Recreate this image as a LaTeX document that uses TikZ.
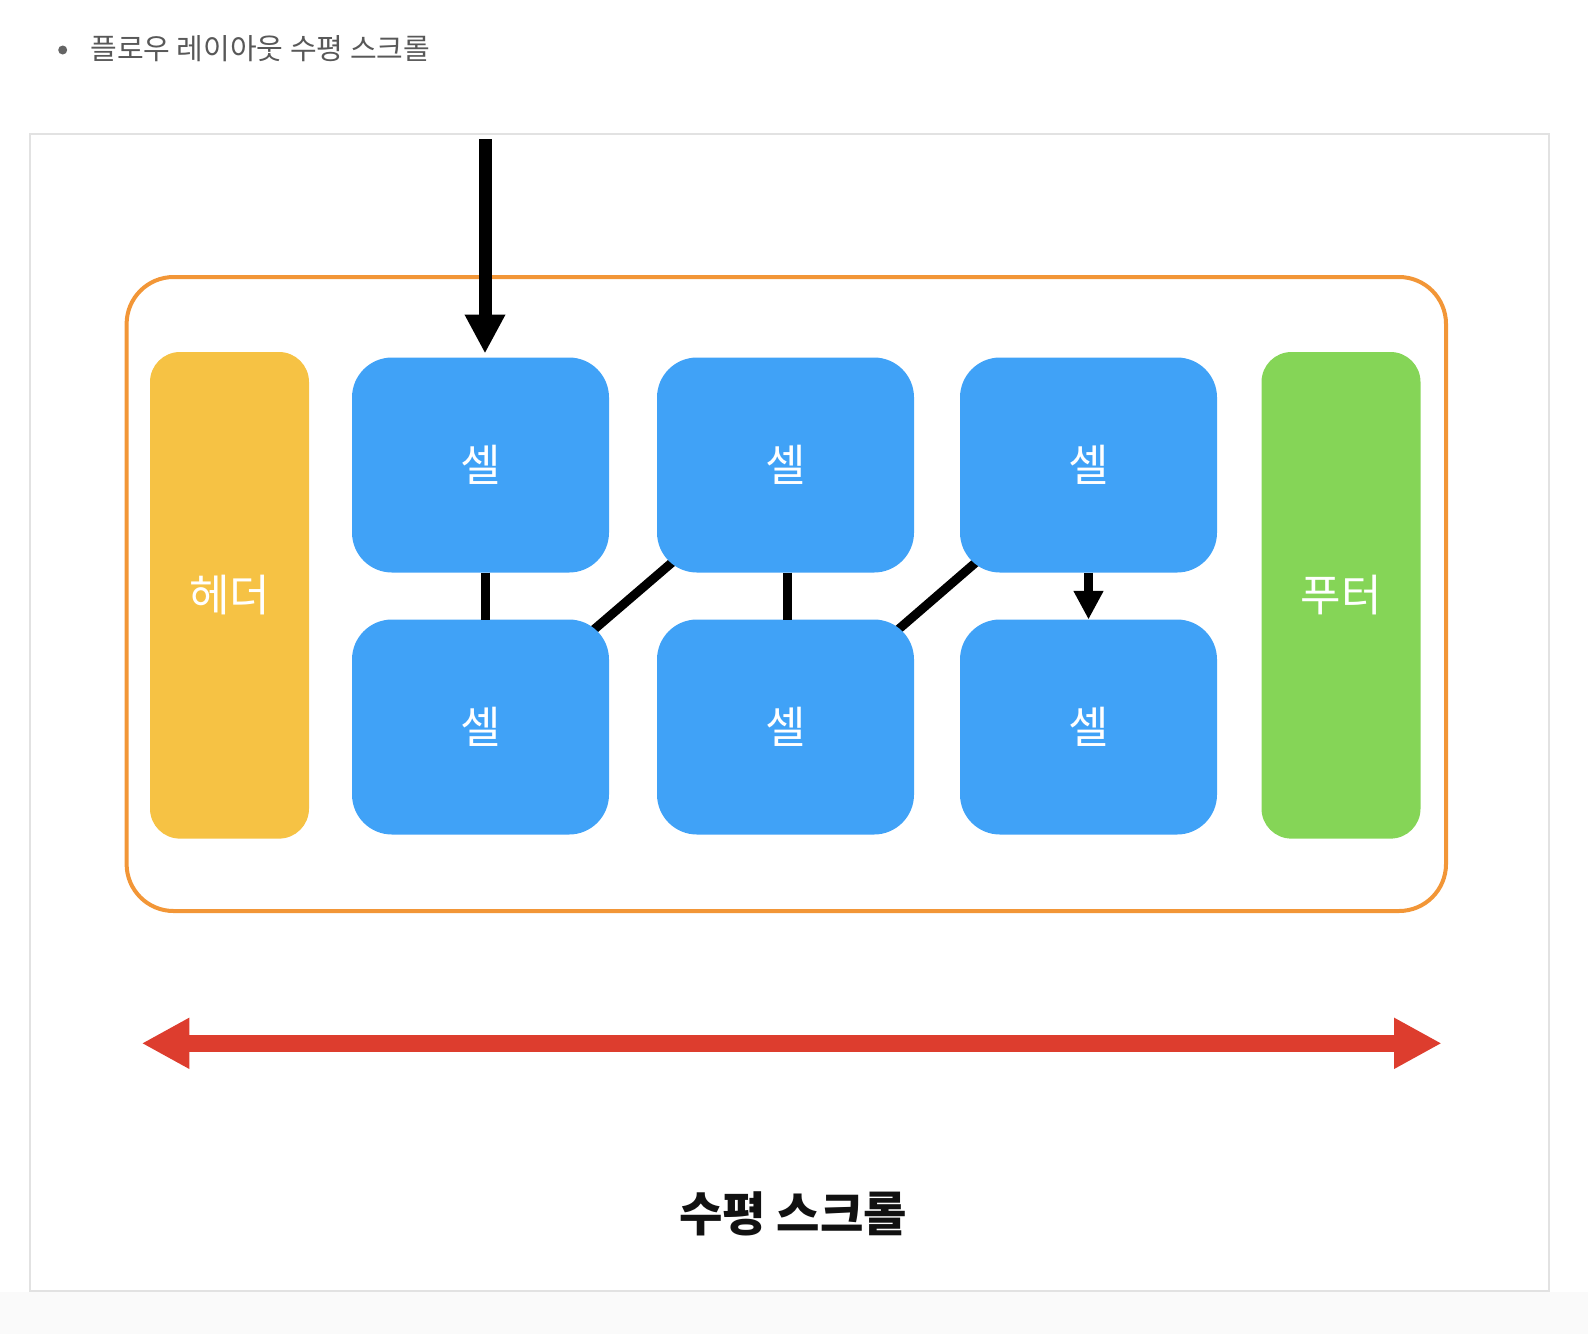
\documentclass[tikz,border=0pt]{standalone}
\usepackage{fontspec}
\newfontfamily\kr{Noto Sans CJK KR}
\usetikzlibrary{arrows.meta,backgrounds}
\definecolor{cellblue}{RGB}{64,162,247}
\definecolor{headeryellow}{RGB}{246,194,68}
\definecolor{footergreen}{RGB}{133,213,87}
\definecolor{orangeline}{RGB}{242,150,55}
\definecolor{scrollred}{RGB}{221,61,46}
\definecolor{framegray}{RGB}{226,226,226}
\definecolor{pagegray}{RGB}{250,250,250}
\definecolor{textgray}{RGB}{88,88,88}
\definecolor{bulletgray}{RGB}{100,100,100}
\definecolor{textblack}{RGB}{17,17,17}
\begin{document}
\begin{tikzpicture}[x=0.5pt,y=-0.5pt,
  cellbox/.style={fill=cellblue, rounded corners=20pt, minimum width=128.5pt,
    minimum height=107.5pt, inner sep=0pt, outer sep=0pt, text=white,
    font=\kr\fontsize{22}{26}\selectfont},
  sidebox/.style={rounded corners=15pt, minimum width=79.5pt,
    minimum height=243.3pt, inner sep=0pt, outer sep=0pt, text=white,
    font=\kr\fontsize{22}{26}\selectfont},
  link/.style={line width=4.5pt, draw=black},
  bigtip/.style={-{Triangle[length=19.5pt,width=19pt]}},
  smalltip/.style={-{Triangle[length=14.3pt,width=14pt]}},
  redtip/.style={{Triangle[length=23.8pt,width=23.8pt]}-{Triangle[length=23.8pt,width=23.8pt]}}
]
\useasboundingbox (0,0) rectangle (1588,1334);
\fill[pagegray] (0,1291.5) rectangle (1588,1334);
\draw[framegray, line width=1pt] (30.4,133.7) rectangle (1548.5,1290.7);
\draw[orangeline, line width=2pt, rounded corners=23.5pt] (126.6,277) rectangle (1446,911);

% title
\node[circle, fill=bulletgray, minimum size=4.5pt, inner sep=0pt] (bullet) at (62.7,50) {};
\node[anchor=west, inner sep=0pt, text=textgray, font=\kr\fontsize{14.5}{17}\selectfont] (title) at (90,48.3) {플로우 레이아웃 수평 스크롤};

% side boxes
\node[sidebox, fill=headeryellow] (header) at (229.5,595.3) {헤더};
\node[sidebox, fill=footergreen] (footer) at (1341,595.3) {푸터};

% cells
\node[cellbox] (t1) at (480.5,465) {셀};
\node[cellbox] (t2) at (785.5,465) {셀};
\node[cellbox] (t3) at (1088.5,465) {셀};
\node[cellbox] (b1) at (480.5,727) {셀};
\node[cellbox] (b2) at (785.5,727) {셀};
\node[cellbox] (b3) at (1088.5,727) {셀};

% connectors
\coordinate (start) at (485,139);
\draw[line width=6.5pt, bigtip, shorten >=2pt] (start) -- (start |- t1.north);
\draw[link] ([xshift=2.25pt]t1.south) -- ([xshift=2.25pt]b1.north);
\draw[link] ([xshift=1pt]t2.south) -- ([xshift=1pt]b2.north);
\draw[link, smalltip] (t3.south) -- (b3.north);
\begin{scope}[on background layer]
  \draw[link] (b1.center) -- (t2.center);
  \draw[link] (b2.center) -- (t3.center);
\end{scope}

% scroll arrow
\coordinate (left) at (141.7,1043.3);
\coordinate (right) at (1441.7,1043.3);
\draw[scrollred, line width=8.3pt, redtip] (left) -- (right);

\node[inner sep=0pt, text=textblack, font=\kr\bfseries\fontsize{23.6}{28}\selectfont] (label) at (793,1214) {수평 스크롤};
\end{tikzpicture}
\end{document}
